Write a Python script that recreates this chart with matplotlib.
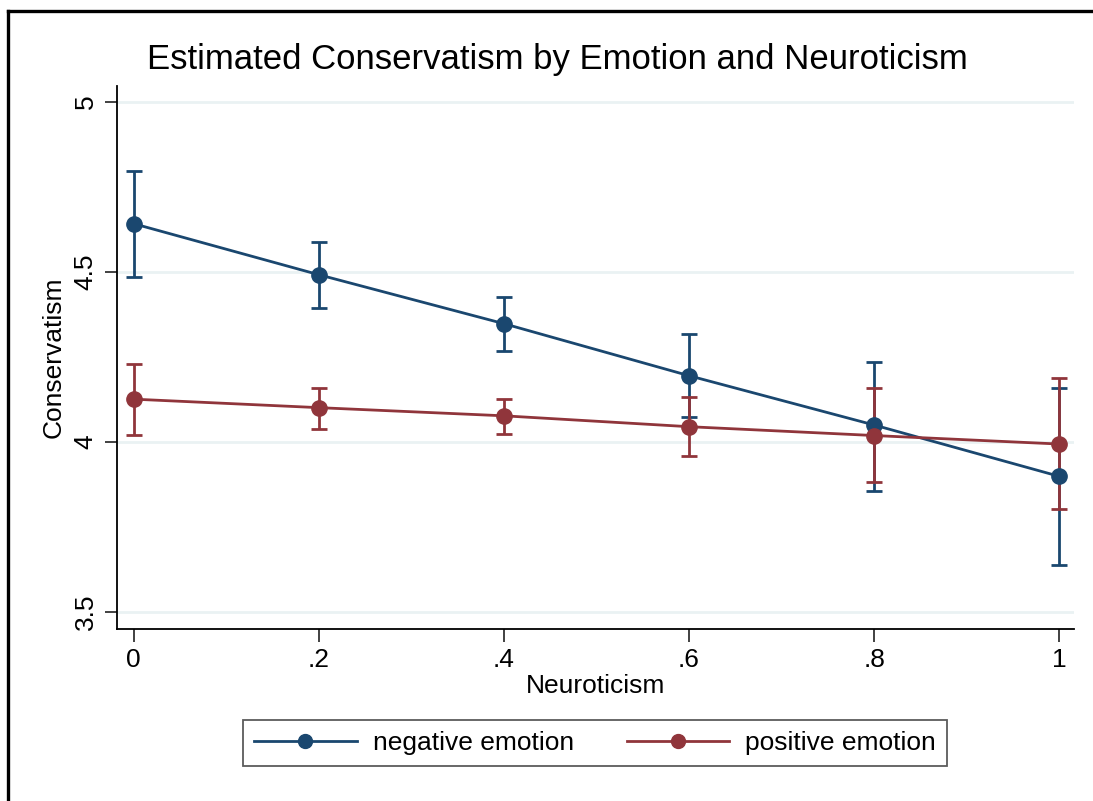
import matplotlib.pyplot as plt
from matplotlib.lines import Line2D

plt.rcParams['font.family'] = ['Liberation Sans', 'DejaVu Sans']

# Neuroticism levels and estimated margins with 95% CIs
neuroticism = [0, 0.2, 0.4, 0.6, 0.8, 1.0]
tick_labels = ['0', '.2', '.4', '.6', '.8', '1']

neg_est = [4.642, 4.492, 4.348, 4.195, 4.050, 3.899]
neg_lo = [4.486, 4.395, 4.268, 4.074, 3.857, 3.638]
neg_hi = [4.796, 4.587, 4.425, 4.318, 4.236, 4.160]

pos_est = [4.126, 4.101, 4.077, 4.045, 4.019, 3.994]
pos_lo = [4.020, 4.039, 4.024, 3.959, 3.883, 3.803]
pos_hi = [4.229, 4.160, 4.127, 4.133, 4.160, 4.189]

navy = '#1a476f'
maroon = '#90353b'

fig = plt.figure(figsize=(10.93, 8.01), dpi=100)
fig.patch.set_facecolor('white')

# outer black frame (left and top edges visible)
fig.add_artist(Line2D([7.5 / 1093, 7.5 / 1093], [0, 1 - 10.5 / 801], color='black', lw=2.4,
                      transform=fig.transFigure))
fig.add_artist(Line2D([7.5 / 1093, 1], [1 - 10.5 / 801, 1 - 10.5 / 801], color='black', lw=2.4,
                      transform=fig.transFigure))

W, H = 1093, 801
left, right, top, bottom = 117, 1074, 86, 629
ax = fig.add_axes([left / W, 1 - bottom / H, (right - left) / W, (bottom - top) / H])

for est, lo, hi, col in [(neg_est, neg_lo, neg_hi, navy), (pos_est, pos_lo, pos_hi, maroon)]:
    yerr = [[e - l for e, l in zip(est, lo)], [h - e for e, h in zip(est, hi)]]
    ax.errorbar(neuroticism, est, yerr=yerr, fmt='none', ecolor=col, elinewidth=2,
                capsize=5.5, capthick=2, zorder=3)
    ax.plot(neuroticism, est, color=col, lw=2, marker='o', markersize=11, zorder=4)

ax.set_xlim(-0.018, 1.016)
ax.set_ylim(3.45, 5.047)
ax.set_xticks(neuroticism)
ax.set_xticklabels(tick_labels)
ax.set_yticks([3.5, 4, 4.5, 5])
ax.set_yticklabels(['3.5', '4', '4.5', '5'], rotation=90, va='center')
ax.grid(axis='y', color='#eaf2f3', lw=2)
ax.set_axisbelow(True)
for s in ['top', 'right']:
    ax.spines[s].set_visible(False)
for s in ['left', 'bottom']:
    ax.spines[s].set_linewidth(1.3)
ax.tick_params(axis='both', labelsize=19, length=9, width=1.3, color='#333333')
ax.tick_params(axis='x', pad=5)
ax.tick_params(axis='y', pad=5)

ax.set_xlabel('Neuroticism', fontsize=19, labelpad=1)
ax.set_ylabel('Conservatism', fontsize=19, labelpad=6)
fig.text(557 / W, 1 - 60 / H, 'Estimated Conservatism by Emotion and Neuroticism',
         ha='center', va='center', fontsize=25)

handles = [Line2D([], [], color=navy, lw=2, marker='o', markersize=10),
           Line2D([], [], color=maroon, lw=2, marker='o', markersize=10)]
leg = fig.legend(handles, ['negative emotion', 'positive emotion'], loc='center',
                 bbox_to_anchor=(595 / W, 1 - 743 / H), ncol=2, fontsize=19, frameon=True,
                 fancybox=False, handlelength=3.9, columnspacing=2.0, handletextpad=0.6,
                 borderpad=0.4)
leg.get_frame().set_edgecolor('#333333')
leg.get_frame().set_linewidth(1.3)

fig.savefig('out.png', dpi=100)
